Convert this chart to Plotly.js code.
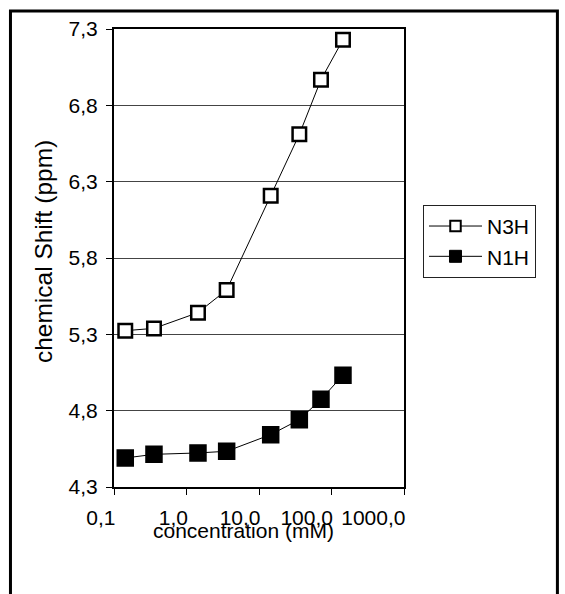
<!DOCTYPE html>
<html>
<head>
<meta charset="utf-8">
<script src="https://cdn.plot.ly/plotly-3.0.1.min.js"></script>
<style>
html,body{margin:0;padding:0;background:#fff;}
#chart{width:565px;height:594px;}
</style>
</head>
<body>
<div id="chart"></div>
<script>
// Data
var concentration = [0.143, 0.356, 1.44, 3.58, 14.5, 36, 71.6, 144];
var n3h = [5.324, 5.339, 5.442, 5.591, 6.208, 6.61, 6.968, 7.23];
var n1h = [4.49, 4.514, 4.523, 4.534, 4.643, 4.741, 4.874, 5.032];
var seriesNames = ["N3H", "N1H"];
var yTickVals = [4.3, 4.8, 5.3, 5.8, 6.3, 6.8, 7.3];
var yTickText = ["4,3", "4,8", "5,3", "5,8", "6,3", "6,8", "7,3"];
var xTickVals = [0.1, 1, 10, 100, 1000];
var xTickText = ["0,1", "1,0", "10,0", "100,0", "1000,0"];
var xTitle = "concentration (mM)";
var yTitle = "chemical Shift (ppm)";

var FONT = "Liberation Sans, Arial, sans-serif";

var openMarker = {symbol: "square", size: 13.5, color: "#fff", line: {color: "#000", width: 2.5}};
var filledMarker = {symbol: "square", size: 16, color: "#000", line: {color: "#000", width: 1.5}};

var traces = [
  {
    x: concentration, y: n3h, name: seriesNames[0], type: "scatter", mode: "lines+markers",
    line: {color: "#000", width: 1}, marker: openMarker, showlegend: false, legendgroup: "a"
  },
  {
    x: concentration, y: n1h, name: seriesNames[1], type: "scatter", mode: "lines+markers",
    line: {color: "#000", width: 1}, marker: filledMarker, showlegend: false, legendgroup: "b"
  },
  // legend-only entries (no data drawn) with the smaller legend symbols
  {
    x: [null], y: [null], name: seriesNames[0], type: "scatter", mode: "lines+markers",
    line: {color: "#000", width: 1}, legendgroup: "a",
    marker: {symbol: "square", size: 10.5, color: "#fff", line: {color: "#000", width: 2}}
  },
  {
    x: [null], y: [null], name: seriesNames[1], type: "scatter", mode: "lines+markers",
    line: {color: "#000", width: 1}, legendgroup: "b",
    marker: {symbol: "square", size: 12, color: "#000", line: {color: "#000", width: 1}}
  }
];

var layout = {
  width: 565, height: 594,
  margin: {l: 114, r: 161, t: 29, b: 107, pad: 0},
  paper_bgcolor: "#fff", plot_bgcolor: "#fff",
  font: {family: FONT, size: 21, color: "#000"},
  showlegend: true,
  legend: {
    x: 1.0655, y: 0.616, xanchor: "left", yanchor: "top",
    bordercolor: "#222", borderwidth: 1, bgcolor: "#fff",
    font: {family: FONT, size: 21, color: "#000"},
    itemsizing: "trace", itemwidth: 53, tracegroupgap: 0
  },
  xaxis: {
    type: "log", range: [-1, 3],
    tickvals: xTickVals, ticktext: xTickText,
    ticks: "outside", ticklen: 6, tickwidth: 1, tickcolor: "#000",
    ticklabelposition: "outside left", ticklabelstandoff: 11, ticklabelshift: 3,
    showgrid: false, zeroline: false,
    showline: true, linecolor: "#000", linewidth: 2, mirror: true,
    tickfont: {family: FONT, size: 21, color: "#000"}
  },
  yaxis: {
    range: [4.3, 7.3],
    tickvals: yTickVals, ticktext: yTickText,
    ticks: "outside", ticklen: 6, tickwidth: 1, tickcolor: "#000",
    ticklabelstandoff: 4,
    showgrid: true, gridcolor: "#444", gridwidth: 1, zeroline: false,
    showline: true, linecolor: "#000", linewidth: 2, mirror: true,
    tickfont: {family: FONT, size: 21, color: "#000"}
  },
  annotations: [
    {text: xTitle, xref: "paper", yref: "paper", x: 0.448, y: -0.094,
     xanchor: "center", yanchor: "middle", showarrow: false,
     font: {family: FONT, size: 21, color: "#000"}},
    {text: yTitle, xref: "paper", yref: "paper", x: -0.245, y: 0.515,
     xanchor: "center", yanchor: "middle", showarrow: false, textangle: -90,
     font: {family: FONT, size: 24.5, color: "#000"}}
  ],
  shapes: [
    {type: "rect", xref: "paper", yref: "paper", x0: -0.357, x1: 1.529, y0: -0.3, y1: 1.0393,
     line: {color: "#000", width: 3}, fillcolor: "rgba(0,0,0,0)", layer: "below"}
  ]
};

Plotly.newPlot("chart", traces, layout, {displayModeBar: false, staticPlot: true});
</script>
</body>
</html>
